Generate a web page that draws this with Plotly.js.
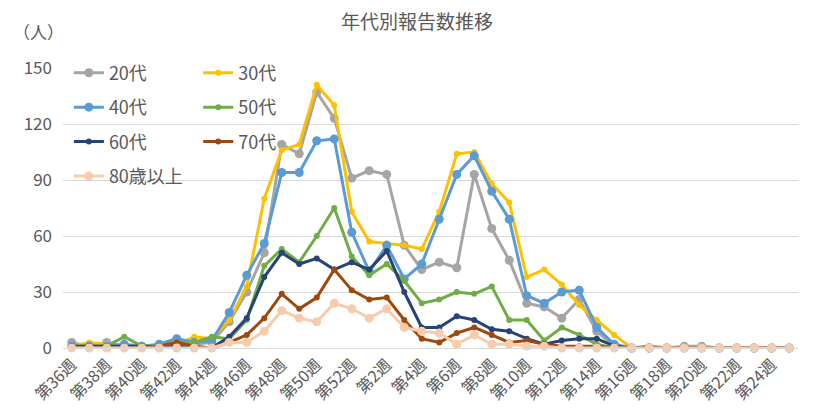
<!DOCTYPE html>
<html>
<head>
<meta charset="utf-8">
<script src="https://cdn.plot.ly/plotly-3.0.1.min.js"></script>
<style>html,body{margin:0;padding:0;background:#fff;}#chart{width:834px;height:415px;}</style>
</head>
<body>
<div id="chart"></div>
<script>
const weeks = ["第36週","第37週","第38週","第39週","第40週","第41週","第42週","第43週","第44週","第45週","第46週","第47週","第48週","第49週","第50週","第51週","第52週",
  "第1週","第2週","第3週","第4週","第5週","第6週","第7週","第8週","第9週","第10週","第11週","第12週","第13週","第14週","第15週","第16週","第17週","第18週","第19週","第20週","第21週","第22週","第23週","第24週","第25週"];
const tickWeeks = ["第36週","第38週","第40週","第42週","第44週","第46週","第48週","第50週","第52週","第2週","第4週","第6週","第8週","第10週","第12週","第14週","第16週","第18週","第20週","第22週","第24週"];

const age20 = [3,1,3,1,1,1,2,2,3,14,30,51,109,104,137,123,91,95,93,55,42,46,43,93,64,47,24,22,16,26,9,1,0,0,0,1,1,0,0,0,0,0];
const age30 = [1,3,2,1,1,1,2,6,5,15,33,80,106,109,141,130,73,57,56,55,53,73,104,105,88,78,38,42,34,23,15,7,0,0,0,0,0,0,0,0,0,0];
const age40 = [1,1,1,2,1,2,5,3,4,19,39,56,94,94,111,112,62,41,55,37,45,69,93,103,84,69,28,24,30,31,11,2,0,0,0,0,0,0,0,0,0,0];
const age50 = [1,1,1,6,1,1,3,3,6,5,15,44,53,46,60,75,49,39,45,36,24,26,30,29,33,15,15,4,11,7,2,0,0,1,0,0,0,0,0,0,0,0];
const age60 = [1,1,1,1,1,0,1,0,0,6,16,38,51,45,48,42,46,42,52,30,11,11,17,15,10,9,5,2,4,5,5,1,0,0,0,0,0,0,0,0,0,0];
const age70 = [0,0,0,0,0,1,3,1,0,3,7,16,29,21,27,42,31,26,27,15,5,3,8,11,7,3,4,2,1,1,1,0,0,0,0,0,0,0,0,0,0,0];
const age80 = [0,0,0,0,0,0,0,0,0,3,3,9,20,16,14,24,21,16,21,11,9,8,2,7,2,2,1,1,0,0,0,0,0,0,0,0,0,0,0,0,0,0];

const seriesNames = ["20代","30代","40代","50代","60代","70代","80歳以上"];
const seriesData = [age20, age30, age40, age50, age60, age70, age80];
const seriesColors = ["#A5A5A5","#FFC000","#5B9BD5","#70AD47","#264478","#9E480E","#F8CBAD"];
const markerSizes = [9,6,9,6,6,6,9];
const legendIds = ["legend","legend2","legend","legend2","legend","legend2","legend"];

const traces = seriesNames.map((n, i) => ({
  type: "scatter",
  mode: "lines+markers",
  name: n,
  x: weeks,
  y: seriesData[i],
  line: {color: seriesColors[i], width: 3},
  marker: {color: seriesColors[i], size: markerSizes[i]},
  legend: legendIds[i],
  legendgroup: "g" + i,
  cliponaxis: false
}));

const font = "'Noto Sans CJK JP', 'Noto Sans', sans-serif";
const legendCommon = {
  bgcolor: "rgba(0,0,0,0)",
  font: {family: font, size: 18, color: "#595959"},
  traceorder: "grouped",
  tracegroupgap: 8,
  xanchor: "left",
  yanchor: "top",
  itemwidth: 30
};

const layout = {
  width: 834,
  height: 415,
  margin: {l: 63, r: 36, t: 68, b: 67},
  paper_bgcolor: "#ffffff",
  plot_bgcolor: "#ffffff",
  font: {family: font, color: "#595959"},
  title: {text: "年代別報告数推移", font: {family: font, size: 19, color: "#595959"}, x: 0.5, xanchor: "center", y: 0.947, yanchor: "middle"},
  showlegend: true,
  legend: Object.assign({}, legendCommon, {x: 0.008, y: 1.048}),
  legend2: Object.assign({}, legendCommon, {x: 0.184, y: 1.048}),
  xaxis: {
    type: "category",
    categoryorder: "array",
    categoryarray: weeks,
    tickmode: "array",
    tickvals: tickWeeks,
    ticktext: tickWeeks,
    tickangle: -45,
    tickfont: {family: font, size: 16, color: "#595959"},
    showgrid: false,
    showline: true,
    linecolor: "#D9D9D9",
    linewidth: 1,
    ticks: "",
    zeroline: false,
    range: [-0.5, 41.5]
  },
  yaxis: {
    range: [0, 150],
    tickvals: [0,30,60,90,120,150],
    tickfont: {family: font, size: 17, color: "#595959"},
    showgrid: true,
    gridcolor: "#D9D9D9",
    gridwidth: 1,
    zeroline: false,
    showline: false,
    ticks: "",
    ticklabelstandoff: 10
  },
  annotations: [{
    text: "（人）", xref: "paper", yref: "paper", x: -0.034, y: 1.13,
    xanchor: "center", yanchor: "middle", showarrow: false,
    font: {family: font, size: 17, color: "#595959"}
  }]
};

Plotly.newPlot("chart", traces, layout, {displayModeBar: false, staticPlot: true});
</script>
</body>
</html>
